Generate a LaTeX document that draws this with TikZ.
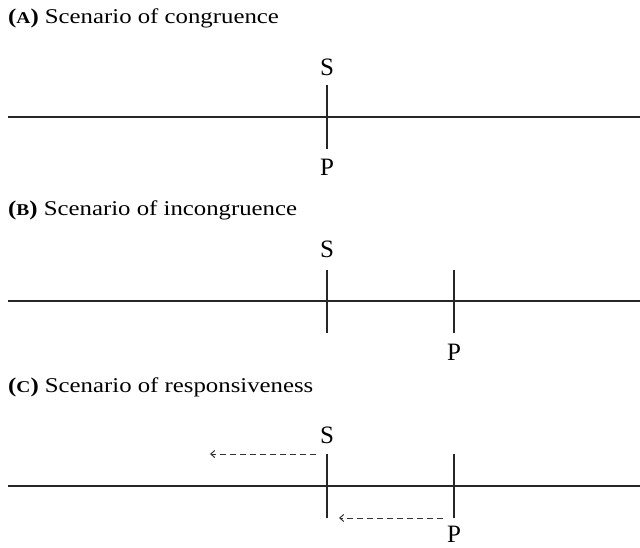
\documentclass[tikz,border=0pt]{standalone}
\usepackage{fontspec}
\setmainfont{Liberation Serif}
\newfontfamily\headfont{Liberation Serif}[FakeStretch=1.18]
\newcommand\fakesc[1]{{\fontsize{16.5}{18}\selectfont #1}}
\usetikzlibrary{arrows.meta}
\begin{document}
\begin{tikzpicture}[x=1pt,y=-1pt,
  axis/.style={line width=1.8pt,black!85},
  tick/.style={line width=1.8pt,black!85},
  lab/.style={font=\fontsize{25}{27}\selectfont,inner sep=0pt},
  head/.style={font=\headfont\fontsize{21}{23}\selectfont,anchor=west,inner sep=0pt},
  move/.style={line width=1pt,black!80,dash pattern=on 6pt off 4pt,-{Straight Barb[length=4pt,width=7pt]}}]
\useasboundingbox (0,0) rectangle (640,548);
% Panel A
\node[head] (ha) at (8,18) {\textbf{(\fakesc{A})} Scenario of congruence};
\coordinate (la) at (8,117); \coordinate (ra) at (640,117);
\draw[axis] (la) -- (ra);
\coordinate (sat) at (327,85); \coordinate (sab) at (327,149);
\draw[tick] (sat) -- (sab);
\node[lab] (sa) at (327,67) {S};
\node[lab] (pa) at (327,167) {P};
% Panel B
\node[head] (hb) at (8,210) {\textbf{(\fakesc{B})} Scenario of incongruence};
\coordinate (lb) at (8,301); \coordinate (rb) at (640,301);
\draw[axis] (lb) -- (rb);
\coordinate (sbt) at (327,270); \coordinate (sbb) at (327,333);
\draw[tick] (sbt) -- (sbb);
\coordinate (pbt) at (454,270); \coordinate (pbb) at (454,333);
\draw[tick] (pbt) -- (pbb);
\node[lab] (sb) at (327,249) {S};
\node[lab] (pb) at (454,352) {P};
% Panel C
\node[head] (hc) at (8,387) {\textbf{(\fakesc{C})} Scenario of responsiveness};
\coordinate (lc) at (8,486); \coordinate (rc) at (640,486);
\draw[axis] (lc) -- (rc);
\coordinate (sct) at (327,454); \coordinate (scb) at (327,518);
\draw[tick] (sct) -- (scb);
\coordinate (pct) at (454,454); \coordinate (pcb) at (454,518);
\draw[tick] (pct) -- (pcb);
\node[lab] (sc) at (327,435) {S};
\node[lab] (pc) at (454,534) {P};
\coordinate (a1s) at (316,454); \coordinate (a1e) at (210,454);
\draw[move] (a1s) -- (a1e);
\coordinate (a2s) at (443,518); \coordinate (a2e) at (339,518);
\draw[move] (a2s) -- (a2e);
\end{tikzpicture}
\end{document}
